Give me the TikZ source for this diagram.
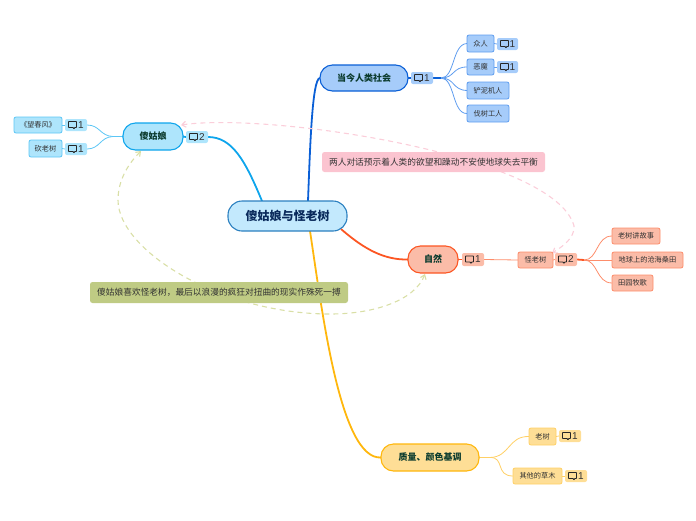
\documentclass[tikz,border=0pt]{standalone}
\usepackage{fontspec}
\setmainfont{Noto Sans CJK SC}
\newfontfamily\numfont{Liberation Sans}
\usetikzlibrary{arrows.meta,backgrounds,calc}
\definecolor{bFill}{HTML}{A6CCFA}\definecolor{bLine}{HTML}{0A5FD6}\definecolor{bThin}{HTML}{5F9DEF}
\definecolor{cFill}{HTML}{AEE5FC}\definecolor{cLine}{HTML}{0EA5EC}\definecolor{cThin}{HTML}{5CC6F5}
\definecolor{rFill}{HTML}{FBBCA8}\definecolor{rLine}{HTML}{FC5623}\definecolor{rThin}{HTML}{FD8D6B}
\definecolor{yFill}{HTML}{FEDE96}\definecolor{yLine}{HTML}{FFB70D}\definecolor{yThin}{HTML}{FFD065}
\definecolor{rootFill}{HTML}{C3E9FD}\definecolor{rootLine}{HTML}{2B80C0}
\definecolor{noteP}{HTML}{FBC4D0}\definecolor{noteG}{HTML}{BFCB84}
\definecolor{relP}{HTML}{FBCEDA}\definecolor{relG}{HTML}{D9DFA6}
\definecolor{ink}{HTML}{0B3B2E}\definecolor{navy}{HTML}{0A2A5C}\definecolor{sub}{HTML}{333333}
\tikzset{
  x=1pt,y=-1pt,
  boxbase/.style={inner sep=0pt,outer sep=0pt,align=center},
  rootbox/.style={boxbase,fill=rootFill,draw=rootLine,line width=1.1pt,rounded corners=14pt,font=\fontsize{12}{14}\selectfont\bfseries,text=navy},
  mainbox/.style={boxbase,line width=1.1pt,rounded corners=12.5pt,font=\fontsize{9}{11}\selectfont\bfseries,text=ink},
  subbox/.style={boxbase,line width=.8pt,rounded corners=2pt,font=\fontsize{7.2}{9}\selectfont,text=sub},
  notebox/.style={boxbase,rounded corners=2.5pt,font=\fontsize{8.7}{11}\selectfont,text=sub},
  badgebox/.style={boxbase,rounded corners=2pt,font=\numfont\fontsize{10}{12}\selectfont,text=sub},
  trunk/.style={line width=1.8pt},
  twig/.style={line width=.8pt},
  rel/.style={line width=1.1pt,dash pattern=on 5pt off 4pt,{Straight Barb[length=4pt,width=6pt]}-{Straight Barb[length=4pt,width=6pt]}},
  cmt/.pic={\draw[line width=.9pt,draw=black!85,line join=round,rounded corners=.5pt] (-4,-3.5) -- (4,-3.5) -- (4,2.5) -- (2,2.5) -- (1.6,4) -- (.6,2.5) -- (-4,2.5) -- cycle;}
}
\newcommand\bx[7]{%
  \pgfmathsetmacro\bxw{#5-#3}\pgfmathsetmacro\bxh{#6-#4}%
  \pgfmathsetmacro\bxx{(#3+#5)/2}\pgfmathsetmacro\bxy{(#4+#6)/2}%
  \node[#2,minimum width=\bxw pt,minimum height=\bxh pt] (#1) at (\bxx,\bxy) {#7};}
\newcommand\bdg[6]{%
  \bx{#1}{badgebox,fill=#2}{#3}{#4}{#5}{#6}{\hspace*{10pt}1}%
  \pic at ($(#1.west)+(7.5,0)$) {cmt};}
\newcommand\bdgtwo[6]{%
  \bx{#1}{badgebox,fill=#2}{#3}{#4}{#5}{#6}{\hspace*{10pt}2}%
  \pic at ($(#1.west)+(7.5,0)$) {cmt};}
\begin{document}
\begin{tikzpicture}
\useasboundingbox (0,0) rectangle (696,520);
% nodes
\bx{root}{rootbox}{228}{201}{347}{231}{傻姑娘与怪老树}
\bx{soc}{mainbox,fill=bFill,draw=bLine}{320}{65}{408}{91}{当今人类社会}
\bdg{socB}{bFill}{411}{72}{433}{84}
\bx{s1}{subbox,fill=bFill,draw=bThin}{467}{35}{494}{52}{众人}
\bdg{s1B}{bFill}{497}{38}{518}{50}
\bx{s2}{subbox,fill=bFill,draw=bThin}{467}{59}{494}{75}{恶魔}
\bdg{s2B}{bFill}{497}{61}{518}{73}
\bx{s3}{subbox,fill=bFill,draw=bThin}{467}{82}{509}{99}{铲泥机人}
\bx{s4}{subbox,fill=bFill,draw=bThin}{467}{105}{509}{122}{伐树工人}
\bx{girl}{mainbox,fill=cFill,draw=cLine}{123}{123}{183}{150}{傻姑娘}
\bdgtwo{girlB}{cFill}{186}{131}{208}{143}
\bx{g1}{subbox,fill=cFill,draw=cThin}{14}{117}{62}{133}{《望春风》}
\bdg{g1B}{cFill}{65}{119}{87}{131}
\bx{g2}{subbox,fill=cFill,draw=cThin}{29}{140}{62}{157}{砍老树}
\bdg{g2B}{cFill}{65}{143}{87}{155}
\bx{nat}{mainbox,fill=rFill,draw=rLine}{408}{246}{458}{273}{自然}
\bdg{natB}{rFill}{462}{253}{484}{266}
\bx{tree}{subbox,fill=rFill,draw=rThin}{518}{252}{553}{268}{怪老树}
\bdgtwo{treeB}{rFill}{555}{253}{577}{266}
\bx{t1}{subbox,fill=rFill,draw=rThin}{612}{228}{660}{244}{老树讲故事}
\bx{t2}{subbox,fill=rFill,draw=rThin}{612}{252}{683}{268}{地球上的沧海桑田}
\bx{t3}{subbox,fill=rFill,draw=rThin}{612}{275}{653}{291}{田园牧歌}
\bx{qual}{mainbox,fill=yFill,draw=yLine}{381}{444}{479}{471}{质量、颜色基调}
\bx{y1}{subbox,fill=yFill,draw=yThin}{529}{428}{556}{445}{老树}
\bdg{y1B}{yFill}{559}{430}{581}{442}
\bx{y2}{subbox,fill=yFill,draw=yThin}{513}{468}{562}{484}{其他的草木}
\bdg{y2B}{yFill}{565}{470}{587}{482}
\bx{noteOne}{notebox,fill=noteP}{322}{152}{545}{172}{两人对话预示着人类的欲望和躁动不安使地球失去平衡}
\bx{noteTwo}{notebox,fill=noteG}{90}{282}{348}{303}{傻姑娘喜欢怪老树，最后以浪漫的疯狂对扭曲的现实作殊死一搏}
% named free ends
\coordinate (rA) at (308,201);
\coordinate (rB) at (262,201);
\coordinate (rC) at (341,229);
\coordinate (rD) at (310,231);
\coordinate (socJ) at (441,78);
\coordinate (girlJ) at (113,136.5);
\coordinate (treeJ) at (584,260);
\coordinate (qualJ) at (490,457.5);
\coordinate (relPa) at (181,125);
\coordinate (relPb) at (574,226);
\coordinate (relPc) at (552,253);
\coordinate (relGa) at (141,151);
\coordinate (relGb) at (118,200);
\coordinate (relGc) at (330,314);
\coordinate (relGd) at (425,274);
\begin{scope}[on background layer]
\draw[trunk,bLine] (rA) .. controls (310,150) and (312,78) .. (soc.west);
\draw[trunk,cLine] (rB) .. controls (245,160) and (232,137) .. (girlB.east);
\draw[trunk,rLine] (rC) .. controls (365,250) and (385,260) .. (nat.west);
\draw[trunk,yLine] (rD) .. controls (322,310) and (340,460) .. (qual.west);
\draw[trunk,bLine] (soc.east) -- (socB.west);
\draw[trunk,bLine] (socB.east) -- (socJ);
\draw[trunk,cLine] (girl.east) -- (girlB.west);
\draw[trunk,rLine] (nat.east) -- (natB.west);
\draw[twig,rThin] (natB.east) -- (tree.west);
\draw[twig,rThin] (tree.east) -- (treeB.west);
\draw[trunk,rLine] (treeB.east) -- (treeJ);
\draw[twig,bThin] (socJ) .. controls (455,78) and (452,44) .. (s1.west);
\draw[twig,bThin] (socJ) .. controls (455,78) and (452,67) .. (s2.west);
\draw[twig,bThin] (socJ) .. controls (455,78) and (452,90) .. (s3.west);
\draw[twig,bThin] (socJ) .. controls (455,78) and (452,114) .. (s4.west);
\draw[twig,bThin] (s1.east) -- (s1B.west);
\draw[twig,bThin] (s2.east) -- (s2B.west);
\draw[twig,cThin] (girl.west) -- (girlJ);
\draw[twig,cThin] (girlJ) .. controls (100,136) and (100,125) .. (g1B.east);
\draw[twig,cThin] (girlJ) .. controls (100,137) and (100,149) .. (g2B.east);
\draw[twig,cThin] (g1.east) -- (g1B.west);
\draw[twig,cThin] (g2.east) -- (g2B.west);
\draw[twig,rThin] (treeJ) .. controls (598,260) and (596,236) .. (t1.west);
\draw[twig,rThin] (treeJ) -- (t2.west);
\draw[twig,rThin] (treeJ) .. controls (598,260) and (596,283) .. (t3.west);
\draw[twig,yThin] (qual.east) -- (qualJ);
\draw[twig,yThin] (qualJ) .. controls (510,457) and (508,436) .. (y1.west);
\draw[twig,yThin] (qualJ) .. controls (505,457) and (495,476) .. (y2.west);
\draw[twig,yThin] (y1.east) -- (y1B.west);
\draw[twig,yThin] (y2.east) -- (y2B.west);
\draw[rel,relP] (relPa) .. controls (270,112) and (555,155) .. (relPb) .. controls (575,238) and (562,247) .. (relPc);
\draw[rel,relG] (relGa) .. controls (124,168) and (118,185) .. (relGb) .. controls (118,250) and (220,314) .. (relGc) .. controls (375,314) and (415,300) .. (relGd);
\end{scope}
\end{tikzpicture}
\end{document}
